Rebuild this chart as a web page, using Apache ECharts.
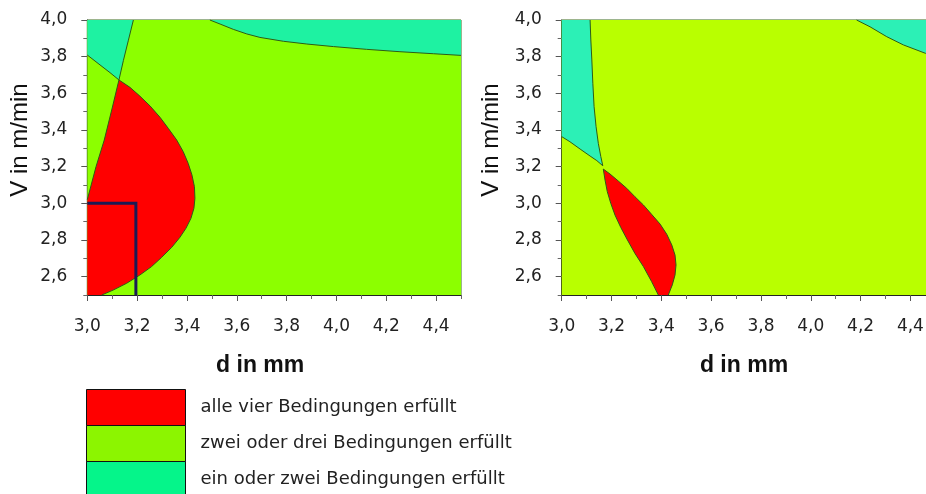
<!DOCTYPE html>
<html>
<head>
<meta charset="utf-8">
<script src="https://cdn.jsdelivr.net/npm/echarts@6/dist/echarts.min.js"></script>
<style>
  html, body { margin: 0; padding: 0; background: #fff; }
  #chart { width: 926px; height: 494px; }
</style>
</head>
<body>
<div id="chart"></div>
<script>
// Axis extents and tick positions (d in mm, V in m/min)
const dRange = [3.0, 4.5];
const vRange = [2.5, 4.0];
const dTicks = [3.0, 3.2, 3.4, 3.6, 3.8, 4.0, 4.2, 4.4];
const vTicks = [2.6, 2.8, 3.0, 3.2, 3.4, 3.6, 3.8, 4.0];
const dMinorTicks = [3.1, 3.3, 3.5, 3.7, 3.9, 4.1, 4.3, 4.5];
const vMinorTicks = [2.5, 2.7, 2.9, 3.1, 3.3, 3.5, 3.7, 3.9];

const classNames = [
  'alle vier Bedingungen erfüllt',
  'zwei oder drei Bedingungen erfüllt',
  'ein oder zwei Bedingungen erfüllt'
];

// ---- left diagram: contour boundaries [d, V] ----
const leftCyanLower = [[3.0, 3.809], [3.051, 3.755], [3.091, 3.713], [3.127, 3.673]];
const leftDividerLow = [[3.0, 3.02], [3.035, 3.20], [3.068, 3.345], [3.100, 3.52], [3.127, 3.673]];
const leftDividerHigh = [[3.127, 3.673], [3.145, 3.78], [3.165, 3.89], [3.185, 4.0]];
const leftRedArc = [
  [3.127, 3.673], [3.171, 3.633], [3.211, 3.585], [3.252, 3.531], [3.292, 3.469],
  [3.325, 3.409], [3.359, 3.345], [3.385, 3.282], [3.405, 3.218], [3.420, 3.155],
  [3.430, 3.091], [3.432, 3.027], [3.428, 2.973], [3.416, 2.918], [3.396, 2.864],
  [3.372, 2.815], [3.339, 2.760], [3.298, 2.705], [3.258, 2.655], [3.211, 2.609],
  [3.158, 2.564], [3.104, 2.527], [3.058, 2.5]
];
const leftCyanTopRight = [
  [3.492, 4.0], [3.533, 3.978], [3.586, 3.949], [3.640, 3.924], [3.693, 3.905],
  [3.787, 3.884], [3.881, 3.869], [3.988, 3.855], [4.121, 3.840], [4.255, 3.827],
  [4.389, 3.816], [4.5, 3.807]
];
const leftWindow = [[3.0, 3.0], [3.195, 3.0], [3.195, 2.5]];

// ---- right diagram: contour boundaries [d, V] ----
const rightCyanEdge = [
  [3.114, 4.0], [3.117, 3.891], [3.121, 3.782], [3.125, 3.655], [3.130, 3.527],
  [3.138, 3.418], [3.147, 3.327], [3.157, 3.255], [3.165, 3.205]
];
const rightCyanLower = [[3.0, 3.364], [3.033, 3.336], [3.074, 3.296], [3.114, 3.258], [3.141, 3.233], [3.165, 3.205]];
const rightRedRight = [
  [3.167, 3.187], [3.194, 3.160], [3.227, 3.122], [3.261, 3.082], [3.294, 3.036],
  [3.328, 2.991], [3.361, 2.940], [3.395, 2.887], [3.422, 2.831], [3.442, 2.773],
  [3.455, 2.718], [3.459, 2.664], [3.455, 2.609], [3.444, 2.555], [3.428, 2.5]
];
const rightRedLeft = [
  [3.167, 3.187], [3.174, 3.127], [3.183, 3.064], [3.197, 3.0], [3.214, 2.936],
  [3.237, 2.869], [3.264, 2.800], [3.294, 2.727], [3.328, 2.655], [3.361, 2.573], [3.388, 2.5]
];
const rightCyanTopRight = [[4.184, 4.0], [4.238, 3.963], [4.305, 3.909], [4.372, 3.864], [4.461, 3.818], [4.5, 3.80]];

// ---- colours ----
const RED = '#ff0000';
const GREEN_L = '#8cff00';
const GREEN_R = '#b9ff00';
const CYAN_L = '#1ef2a2';
const CYAN_R = '#2cf0b6';
const EDGE = '#2e5c16';
const legendColors = [RED, '#8cf500', '#05f58a'];

const fullRect = [[dRange[0], vRange[0]], [dRange[1], vRange[0]], [dRange[1], vRange[1]], [dRange[0], vRange[1]]];
const fmt = v => Number(v).toFixed(1).replace('.', ',');

// polygon fill plus its boundary curves, placed through the axes
function region(name, grid, poly, edges, fill, edgeStyle) {
  return {
    type: 'custom',
    name: name,
    coordinateSystem: 'cartesian2d',
    xAxisIndex: grid * 2,
    yAxisIndex: grid * 2,
    silent: true,
    animation: false,
    data: [poly ? poly[0] : edges[0][0]],
    renderItem: function (params, api) {
      const children = [];
      if (poly) {
        children.push({
          type: 'polygon',
          shape: { points: poly.map(p => api.coord(p)) },
          style: { fill: fill }
        });
      }
      (edges || []).forEach(e => {
        children.push({
          type: 'polyline',
          shape: { points: e.map(p => api.coord(p)) },
          style: Object.assign({ fill: null, stroke: EDGE, lineWidth: 1 }, edgeStyle || {})
        });
      });
      return { type: 'group', children: children };
    }
  };
}

const leftCyanPoly = [[3.0, 4.0]].concat(leftCyanLower, leftDividerHigh.slice(1));
const leftRedPoly = [[3.0, 2.5]].concat(leftDividerLow, leftRedArc.slice(1));
const leftTRPoly = leftCyanTopRight.concat([[4.5, 4.0]]);
const rightCyanPoly = [[3.0, 4.0]].concat(rightCyanEdge, rightCyanLower.slice().reverse().slice(1));
const rightRedPoly = rightRedRight.concat(rightRedLeft.slice().reverse().slice(0, -1));
const rightTRPoly = rightCyanTopRight.concat([[4.5, 4.0]]);

const tickFont = { fontFamily: 'DejaVu Sans', fontSize: 17, color: '#222' };
const titleFont = { fontFamily: 'Liberation Sans, Arial, sans-serif', color: '#111' };

function xAxes(grid, shift) {
  return [{
    type: 'value', gridIndex: grid, position: 'bottom', min: dRange[0], max: dRange[1],
    axisLine: { show: true, lineStyle: { color: '#222', width: 1 } },
    axisTick: { show: true, customValues: dTicks, length: 6, lineStyle: { color: '#555' } },
    axisLabel: Object.assign({ customValues: dTicks, formatter: fmt, margin: 23 }, tickFont),
    splitLine: { show: false },
    name: 'd in mm', nameLocation: 'middle', nameGap: 59,
    nameTextStyle: Object.assign({ fontSize: 23, fontWeight: 'bold', padding: [0, shift, 0, 0] }, titleFont)
  }, {
    type: 'value', gridIndex: grid, position: 'bottom', min: dRange[0], max: dRange[1],
    axisLine: { show: false, onZero: false },
    axisTick: { show: true, customValues: dMinorTicks, length: 4, lineStyle: { color: '#666' } },
    axisLabel: { show: false }, splitLine: { show: false }
  }];
}

function yAxes(grid, gap) {
  return [{
    type: 'value', gridIndex: grid, position: 'left', min: vRange[0], max: vRange[1],
    axisLine: { show: true, lineStyle: { color: '#222', width: 1 } },
    axisTick: { show: true, customValues: vTicks, length: 6, lineStyle: { color: '#555' } },
    axisLabel: Object.assign({ customValues: vTicks, formatter: fmt, margin: 20 }, tickFont),
    splitLine: { show: false },
    name: 'V in m/min', nameLocation: 'middle', nameGap: gap,
    nameTextStyle: Object.assign({ fontSize: 24, padding: [0, 0, 0, 35] }, titleFont)
  }, {
    type: 'value', gridIndex: grid, position: 'left', min: vRange[0], max: vRange[1],
    axisLine: { show: false, onZero: false },
    axisTick: { show: true, customValues: vMinorTicks, length: 4, lineStyle: { color: '#666' } },
    axisLabel: { show: false }, splitLine: { show: false }
  }];
}

// one legend row per class, stacked as a column of swatches
const legends = classNames.map((name, i) => ({
  orient: 'vertical', left: 86, top: 389 + i * 36, padding: 0,
  itemWidth: 99, itemHeight: 36, itemGap: 0, icon: 'rect',
  selectedMode: false,
  data: [{ name: name, itemStyle: { color: legendColors[i], borderColor: '#111', borderWidth: 1 } }],
  textStyle: { fontFamily: 'DejaVu Sans', fontSize: 18, color: '#222', padding: [0, 0, 0, 10] }
}));

const chart = echarts.init(document.getElementById('chart'), null, { renderer: 'canvas' });
chart.setOption({
  backgroundColor: '#fff',
  animation: false,
  grid: [
    { left: 87.3, top: 20, width: 373.7, height: 275, show: true, borderColor: '#3a6a1c', borderWidth: 1, outerBoundsMode: 'none' },
    { left: 561.7, top: 20, width: 373.6, height: 275, show: true, borderColor: '#3a6a1c', borderWidth: 1, outerBoundsMode: 'none' }
  ],
  xAxis: xAxes(0, 28).concat(xAxes(1, 9)),
  yAxis: yAxes(0, 55).concat(yAxes(1, 58)),
  legend: legends,
  series: [
    // left diagram
    region(classNames[1], 0, fullRect, [], GREEN_L),
    region(classNames[2], 0, leftCyanPoly, [], CYAN_L),
    region(classNames[2], 0, leftTRPoly, [leftCyanTopRight], CYAN_L),
    region(classNames[0], 0, leftRedPoly, [leftRedArc], RED),
    region('', 0, null, [leftCyanLower, leftDividerLow, leftDividerHigh], null),
    region('', 0, null, [leftWindow], null, { stroke: '#1b1b55', lineWidth: 3 }),
    // right diagram
    region(classNames[1], 1, fullRect, [], GREEN_R),
    region(classNames[2], 1, rightCyanPoly, [rightCyanEdge, rightCyanLower], CYAN_R),
    region(classNames[2], 1, rightTRPoly, [rightCyanTopRight], CYAN_R),
    region(classNames[0], 1, rightRedPoly, [rightRedRight, rightRedLeft], RED)
  ]
});
</script>
</body>
</html>
